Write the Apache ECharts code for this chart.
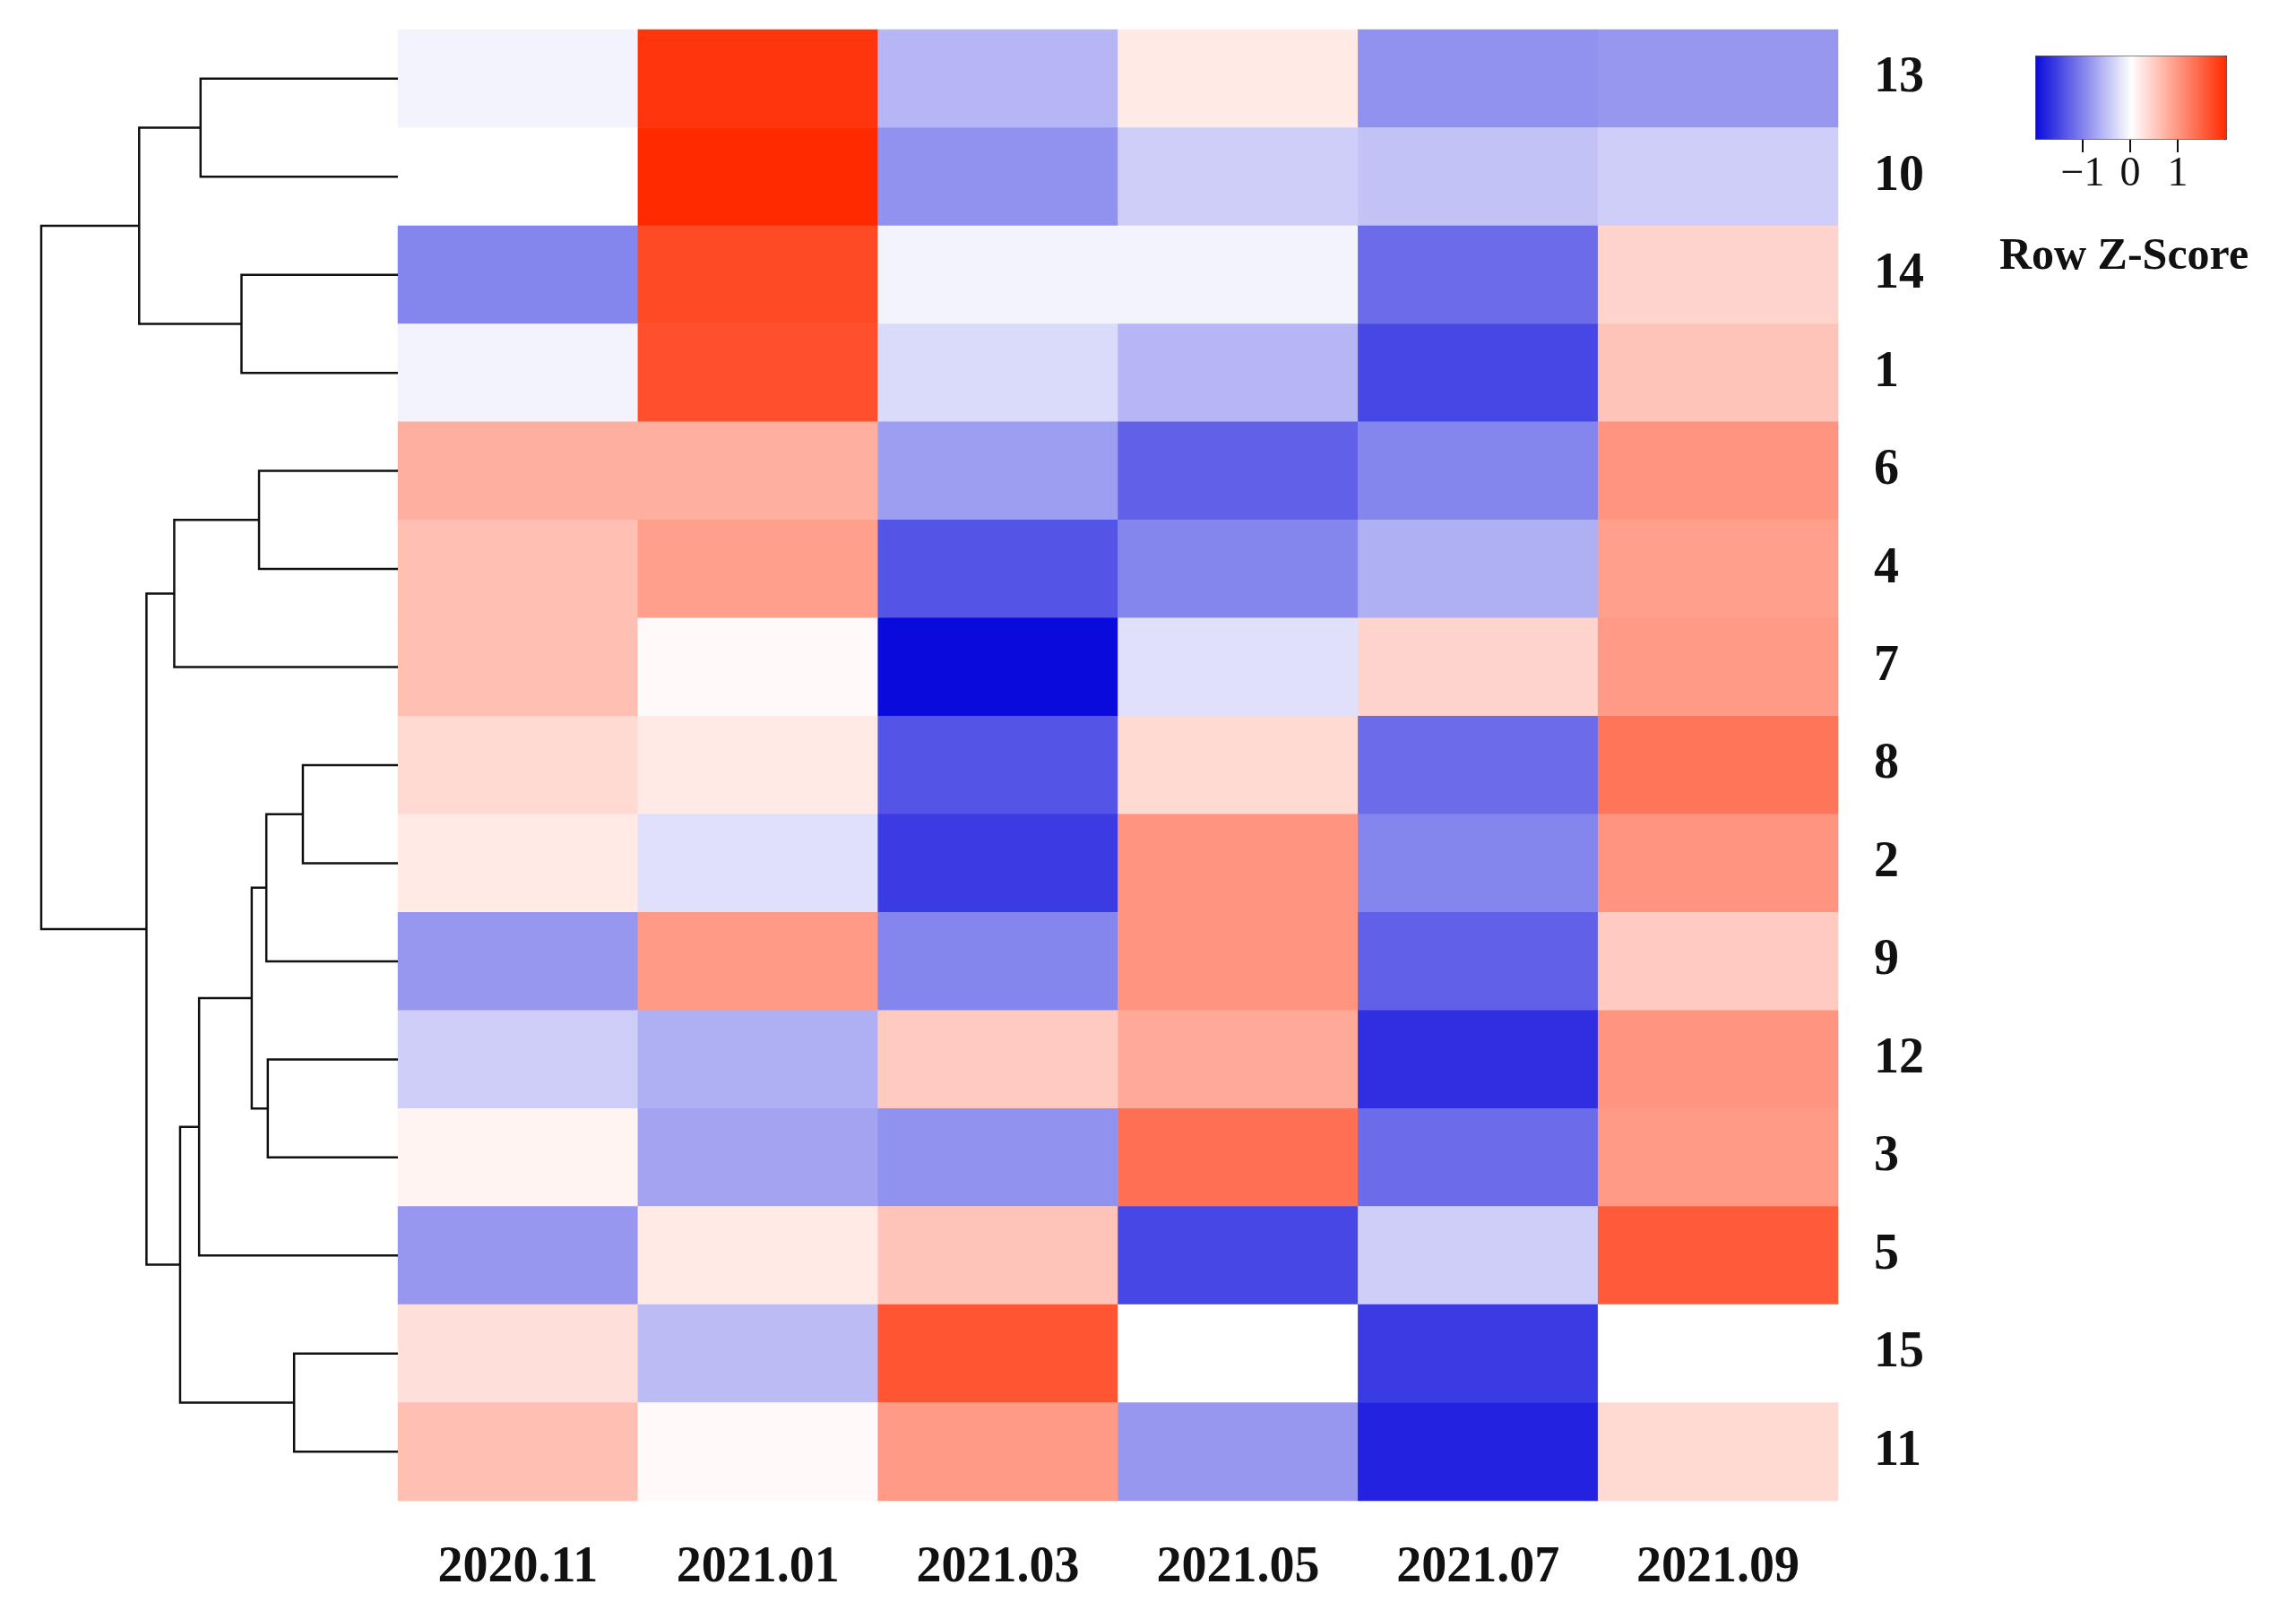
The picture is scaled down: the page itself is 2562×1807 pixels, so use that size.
<!DOCTYPE html>
<html>
<head>
<meta charset="utf-8">
<script src="https://cdn.jsdelivr.net/npm/echarts@6/dist/echarts.min.js"></script>
<style>html,body{margin:0;padding:0;background:#fff}#chart{width:2562px;height:1807px}</style>
</head>
<body>
<div id="chart"></div>
<script>
// 列（采样时间）
var months = ['2020.11', '2021.01', '2021.03', '2021.05', '2021.07', '2021.09'];
// 行（聚类后顺序）
var rows = ['13', '10', '14', '1', '6', '4', '7', '8', '2', '9', '12', '3', '5', '15', '11'];
// Row Z-Score
var z13 = [-0.1, 1.9, -0.6, 0.2, -0.9, -0.85];
var z10 = [0, 2.0, -0.9, -0.4, -0.5, -0.4];
var z14 = [-1.0, 1.7, -0.1, -0.1, -1.2, 0.4];
var z1 = [-0.1, 1.65, -0.3, -0.6, -1.5, 0.55];
var z6 = [0.75, 0.75, -0.8, -1.3, -1.0, 1.0];
var z4 = [0.6, 0.9, -1.4, -1.0, -0.65, 0.9];
var z7 = [0.6, 0.05, -2.0, -0.25, 0.4, 0.95];
var z8 = [0.35, 0.2, -1.4, 0.35, -1.2, 1.3];
var z2 = [0.2, -0.25, -1.6, 1.0, -1.0, 1.0];
var z9 = [-0.85, 0.95, -1.0, 1.0, -1.3, 0.5];
var z12 = [-0.4, -0.65, 0.5, 0.8, -1.7, 1.0];
var z3 = [0.1, -0.75, -0.9, 1.35, -1.2, 0.95];
var z5 = [-0.85, 0.2, 0.55, -1.5, -0.4, 1.55];
var z15 = [0.3, -0.55, 1.6, 0, -1.6, 0];
var z11 = [0.6, 0.05, 0.95, -0.85, -1.8, 0.35];
var matrix = [z13, z10, z14, z1, z6, z4, z7, z8, z2, z9, z12, z3, z5, z15, z11];
// 聚类树：[左节点, 右节点, 高度]，叶子用行序号，内部节点用 'n'+序号
var merges = [
  [0, 1, 135], [2, 3, 107], ['n0', 'n1', 177],
  [4, 5, 95], ['n3', 6, 153],
  [7, 8, 65], ['n5', 9, 90], [10, 11, 89], ['n6', 'n7', 100], ['n8', 12, 136],
  [13, 14, 71], ['n9', 'n10', 149], ['n4', 'n11', 172],
  ['n2', 'n12', 244]
];

var heat = [];
matrix.forEach(function (r, i) {
  r.forEach(function (v, j) { heat.push([j, i, v]); });
});

var nodes = [];
function pos(k) {
  if (typeof k === 'number') return [0, k];
  return nodes[+k.slice(1)];
}
var segs = [];
merges.forEach(function (m) {
  var a = pos(m[0]), b = pos(m[1]), h = m[2];
  segs.push({coords: [[a[0], a[1]], [h, a[1]], [h, b[1]], [b[0], b[1]]]});
  nodes.push([h, (a[1] + b[1]) / 2]);
});

var font = 'Liberation Serif';
var chart = echarts.init(document.getElementById('chart'));
chart.setOption({
  animation: false,
  grid: [
    {left: 444, top: 33, width: 1607, height: 1642},
    {left: 46, top: 33, width: 398, height: 1642}
  ],
  xAxis: [
    {type: 'category', data: months, gridIndex: 0, axisLine: {show: false}, axisTick: {show: false},
      axisLabel: {fontFamily: font, fontWeight: 'bold', fontSize: 56, color: '#111', margin: 48}},
    {type: 'value', gridIndex: 1, min: 0, max: 244, inverse: true, show: false}
  ],
  yAxis: [
    {type: 'category', data: rows, gridIndex: 0, inverse: true, position: 'right',
      axisLine: {show: false}, axisTick: {show: false},
      axisLabel: {fontFamily: font, fontWeight: 'bold', fontSize: 56, color: '#111', margin: 40}},
    {type: 'value', gridIndex: 1, min: -0.5, max: 14.5, inverse: true, show: false}
  ],
  visualMap: {
    type: 'continuous', min: -2, max: 2, orient: 'horizontal', left: 2271, top: 62,
    itemWidth: 93, itemHeight: 213, calculable: false, text: null, showLabel: false,
    seriesIndex: 0, padding: 0, borderColor: '#333', borderWidth: 1,
    inRange: {color: ['#0a0adc', '#ffffff', '#ff2a00']}
  },
  graphic: [
    {type: 'line', shape: {x1: 2324, y1: 155, x2: 2324, y2: 170}, style: {stroke: '#111', lineWidth: 2}},
    {type: 'line', shape: {x1: 2377, y1: 155, x2: 2377, y2: 170}, style: {stroke: '#111', lineWidth: 2}},
    {type: 'line', shape: {x1: 2430, y1: 155, x2: 2430, y2: 170}, style: {stroke: '#111', lineWidth: 2}},
    {type: 'text', x: 2324, y: 172, style: {text: '\u22121', fontFamily: font, fontSize: 46, fill: '#111', align: 'center'}},
    {type: 'text', x: 2377, y: 172, style: {text: '0', fontFamily: font, fontSize: 46, fill: '#111', align: 'center'}},
    {type: 'text', x: 2430, y: 172, style: {text: '1', fontFamily: font, fontSize: 46, fill: '#111', align: 'center'}},
    {type: 'text', x: 2370, y: 262, style: {text: 'Row Z-Score', fontFamily: font, fontWeight: 'bold', fontSize: 50, fill: '#111', align: 'center'}}
  ],
  series: [
    {type: 'heatmap', xAxisIndex: 0, yAxisIndex: 0, data: heat, itemStyle: {borderWidth: 0}},
    {type: 'lines', coordinateSystem: 'cartesian2d', xAxisIndex: 1, yAxisIndex: 1, polyline: true,
      data: segs, lineStyle: {color: '#111', width: 2.5, opacity: 1}}
  ]
});
</script>
</body>
</html>
